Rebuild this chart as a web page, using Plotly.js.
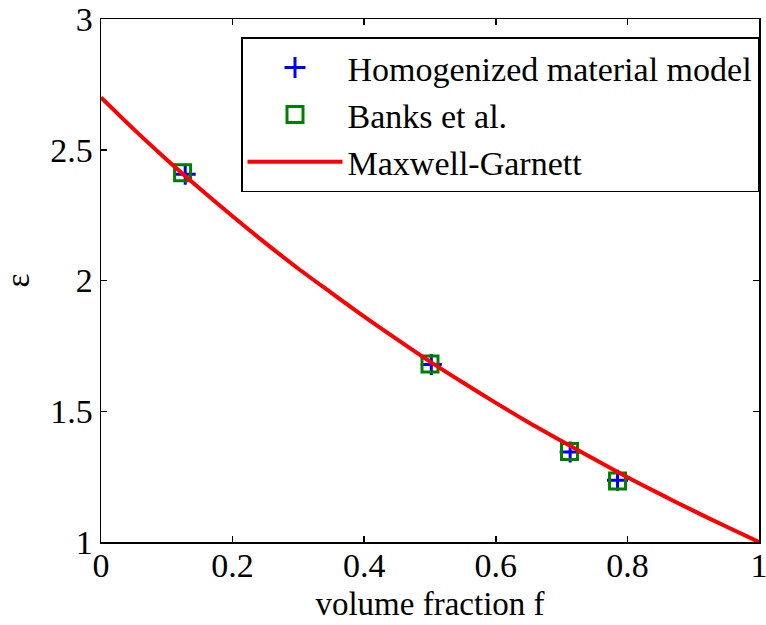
<!DOCTYPE html>
<html>
<head>
<meta charset="utf-8">
<script src="https://cdn.plot.ly/plotly-3.0.1.min.js"></script>
<style>
  html, body { margin: 0; padding: 0; background: #fff; }
  #chart { width: 766px; height: 625px; }
</style>
</head>
<body>
<div id="chart"></div>
<script>
// Effective permittivity versus volume fraction of inclusions
var homogFraction = [0.128, 0.502, 0.713, 0.785];
var homogEps      = [2.406, 1.679, 1.344, 1.236];

var banksFraction = [0.124, 0.500, 0.712, 0.785];
var banksEps      = [2.412, 1.681, 1.346, 1.233];

var mgFraction = [0, 0.05, 0.1, 0.15, 0.2, 0.25, 0.3, 0.35, 0.4, 0.45, 0.5,
                  0.55, 0.6, 0.65, 0.7, 0.75, 0.8, 0.85, 0.9, 0.95, 1.0];
var mgEps      = [2.70, 2.578, 2.462, 2.352, 2.246, 2.143, 2.045, 1.953, 1.862, 1.775, 1.690,
                  1.610, 1.532, 1.457, 1.386, 1.316, 1.248, 1.183, 1.120, 1.059, 1.00];

var xTicks = [0, 0.2, 0.4, 0.6, 0.8, 1];
var xTickText = ['0', '0.2', '0.4', '0.6', '0.8', '1'];
var yTicks = [1, 1.5, 2, 2.5, 3];
var yTickText = ['1', '1.5', '2', '2.5', '3'];

var serif = "'Liberation Serif', 'Times New Roman', serif";

var traces = [
  {
    x: homogFraction, y: homogEps, name: 'Homogenized material model',
    type: 'scatter', mode: 'markers',
    marker: { symbol: 'cross-thin', size: 15, color: '#0000ff',
              line: { color: '#0000ff', width: 3 } }
  },
  {
    x: banksFraction, y: banksEps, name: 'Banks et al.',
    type: 'scatter', mode: 'markers',
    marker: { symbol: 'square-open', size: 16, color: '#008000',
              line: { color: '#008000', width: 3 } }
  },
  {
    x: mgFraction, y: mgEps, name: 'Maxwell-Garnett',
    type: 'scatter', mode: 'lines',
    line: { color: '#ff0000', width: 4, shape: 'spline', smoothing: 0.8 }
  }
];

var axisCommon = {
  showgrid: false, zeroline: false,
  showline: true, linecolor: '#000', linewidth: 1.5, mirror: 'ticks',
  ticks: 'inside', ticklen: 6, tickwidth: 1.5, tickcolor: '#000',
  ticklabeloverflow: 'allow',
  tickfont: { family: serif, size: 34, color: '#000' }
};

var layout = {
  width: 766, height: 625,
  paper_bgcolor: '#fff', plot_bgcolor: '#fff',
  margin: { l: 101, r: 7, t: 19, b: 83 },
  showlegend: true,
  xaxis: Object.assign({}, axisCommon, {
    range: [0, 1], tickmode: 'array', tickvals: xTicks, ticktext: xTickText,
    ticklabelstandoff: -7,
    title: { text: 'volume fraction f', font: { family: serif, size: 33, color: '#000' }, standoff: 8 }
  }),
  yaxis: Object.assign({}, axisCommon, {
    range: [1, 3], tickmode: 'array', tickvals: yTicks, ticktext: yTickText,
    title: { text: 'ε', font: { family: serif, size: 33, color: '#000' }, standoff: 18 }
  }),
  legend: {
    x: 1, xanchor: 'right', y: 0.965, yanchor: 'top',
    bgcolor: '#fff', bordercolor: '#000', borderwidth: 1.5,
    font: { family: serif, size: 34, color: '#000' },
    itemwidth: 95
  }
};

Plotly.newPlot('chart', traces, layout, { displayModeBar: false, staticPlot: true });
</script>
</body>
</html>
